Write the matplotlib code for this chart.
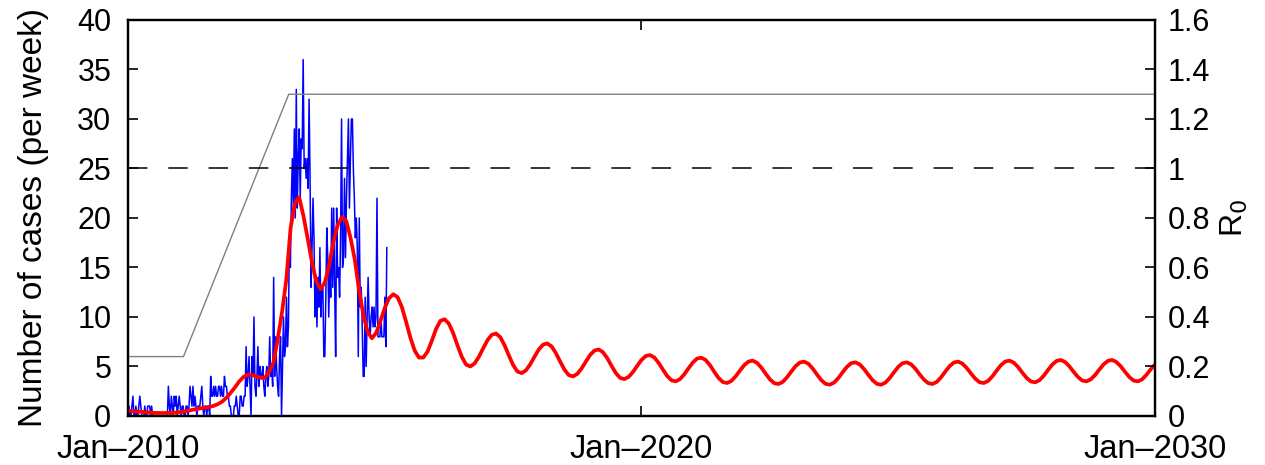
import numpy as np
import matplotlib
matplotlib.use("Agg")
import matplotlib.pyplot as plt

plt.rcParams.update({
    "font.family": ["Liberation Sans", "DejaVu Sans"],
    "font.size": 22,
    "lines.scale_dashes": False,
    "axes.linewidth": 1.6,
})

# weekly reported cases, first week of Jan 2010 onwards
weekly_cases = [
    1, 1, 0, 0, 1, 2, 0, 0, 1, 0,
    0, 1, 2, 1, 0, 0, 0, 1, 0, 0,
    1, 1, 1, 0, 1, 0, 0, 0, 0, 0,
    0, 0, 0, 0, 0, 0, 0, 0, 0, 0,
    0, 3, 1, 0, 2, 1, 0, 2, 1, 2,
    0, 1, 2, 1, 0, 1, 1, 0, 0, 1,
    1, 0, 1, 3, 2, 1, 3, 1, 2, 1,
    0, 1, 1, 1, 2, 3, 1, 0, 1, 1,
    0, 1, 1, 0, 4, 2, 2, 3, 2, 3,
    2, 2, 3, 3, 2, 3, 2, 2, 4, 3,
    3, 2, 2, 1, 1, 0, 0, 0, 1, 1,
    2, 1, 0, 0, 2, 2, 1, 1, 2, 2,
    7, 3, 4, 6, 3, 0, 6, 4, 10, 3,
    2, 4, 7, 3, 5, 4, 4, 5, 3, 2,
    4, 5, 3, 4, 8, 4, 5, 3, 14, 4,
    8, 5, 3, 2, 6, 8, 0, 5, 10, 6,
    7, 12, 7, 9, 18, 15, 22, 26, 21, 29,
    20, 33, 21, 26, 29, 22, 28, 27, 36, 25,
    26, 24, 26, 23, 32, 24, 13, 17, 22, 18,
    10, 14, 9, 14, 11, 17, 10, 13, 13, 6,
    6, 12, 19, 16, 10, 15, 12, 21, 13, 21,
    13, 6, 21, 14, 15, 12, 18, 30, 15, 16,
    24, 16, 22, 26, 30, 21, 26, 30, 30, 25,
    22, 18, 20, 17, 6, 20, 11, 13, 9, 4,
    4, 12, 5, 10, 14, 10, 8, 10, 11, 9,
    11, 9, 10, 22, 8, 8, 8, 10, 8, 8,
    8, 12, 7, 17,
]

# model fit, monthly values Jan 2010 .. Jan 2030
model_cases = [
    0.50, 0.48, 0.46, 0.42, 0.38, 0.34, 0.31, 0.30, 0.30, 0.30, 0.31, 0.33,
    0.38, 0.44, 0.52, 0.62, 0.70, 0.78, 0.85, 0.92, 1.02, 1.20, 1.45, 1.85,
    2.35, 2.90, 3.50, 3.95, 4.18, 4.15, 4.00, 3.85, 3.85, 4.50, 5.40, 7.80,
    10.5, 13.8, 19.0, 21.5, 22.1, 20.2, 17.9, 15.5, 13.6, 12.8, 13.5, 15.2,
    17.6, 19.3, 20.1, 19.7, 18.0, 15.8, 12.7, 10.2, 8.50, 7.85, 8.40, 9.60,
    10.9, 11.9, 12.3, 12.0, 11.0, 9.50, 7.90, 6.60, 5.90, 5.90, 6.50, 7.60,
    8.80, 9.61, 9.77, 9.32, 8.36, 7.13, 5.98, 5.20, 5.00, 5.31, 5.98, 6.84,
    7.65, 8.20, 8.33, 7.96, 7.15, 6.12, 5.15, 4.49, 4.33, 4.61, 5.22, 5.99,
    6.72, 7.21, 7.33, 7.02, 6.35, 5.49, 4.68, 4.13, 4.00, 4.25, 4.80, 5.50,
    6.17, 6.61, 6.72, 6.44, 5.84, 5.07, 4.34, 3.85, 3.73, 3.95, 4.44, 5.07,
    5.66, 6.06, 6.15, 5.91, 5.37, 4.69, 4.04, 3.61, 3.50, 3.72, 4.21, 4.82,
    5.40, 5.80, 5.89, 5.65, 5.14, 4.47, 3.85, 3.43, 3.33, 3.54, 4.00, 4.58,
    5.13, 5.50, 5.59, 5.37, 4.89, 4.29, 3.71, 3.32, 3.23, 3.44, 3.90, 4.48,
    5.03, 5.40, 5.49, 5.28, 4.80, 4.20, 3.63, 3.25, 3.16, 3.37, 3.83, 4.41,
    4.96, 5.33, 5.42, 5.21, 4.75, 4.17, 3.62, 3.25, 3.16, 3.37, 3.83, 4.41,
    4.96, 5.33, 5.42, 5.22, 4.78, 4.21, 3.68, 3.32, 3.23, 3.44, 3.90, 4.48,
    5.03, 5.40, 5.50, 5.29, 4.85, 4.30, 3.77, 3.41, 3.33, 3.54, 4.00, 4.58,
    5.13, 5.50, 5.59, 5.39, 4.95, 4.38, 3.85, 3.49, 3.40, 3.61, 4.06, 4.64,
    5.19, 5.56, 5.66, 5.45, 5.02, 4.46, 3.94, 3.58, 3.50, 3.70, 4.13, 4.69,
    5.21, 5.57, 5.66, 5.45, 5.02, 4.46, 3.94, 3.58, 3.50, 3.70, 4.15, 4.71,
    5.20,
]

# R0 scenario (piecewise linear)
r0_years = [2010.0, 2011.08, 2013.13, 2030.0]
r0_values = [0.24, 0.24, 1.30, 1.30]
r0_threshold = 1.0

x_ticks = [2010, 2020, 2030]
x_labels = ["Jan\u20132010", "Jan\u20132020", "Jan\u20132030"]

week_t = 2010 + np.arange(len(weekly_cases)) * 7 / 365.25
month_t = 2010 + np.arange(len(model_cases)) / 12

fig = plt.figure(figsize=(12.65, 4.65), dpi=100)
ax = fig.add_axes([0.1012, 0.1054, 0.8118, 0.8516])
ax2 = ax.twinx()

ax.plot(week_t, weekly_cases, color="#0000ff", lw=1.1, zorder=2)
ax.plot(month_t, model_cases, color="#ff0000", lw=2.7, zorder=3)

ax2.plot(r0_years, r0_values, color="#808080", lw=1.0)
ax2.axhline(r0_threshold, color="black", lw=1.1, ls=(0, (14, 15)))

ax.set_xlim(2010, 2030)
ax.set_ylim(0, 40)
ax2.set_ylim(0, 1.6)
ax.set_yticks(np.arange(0, 41, 5))
ax2.set_yticks(np.arange(0, 1.61, 0.2))
ax2.set_yticklabels(["0", "0.2", "0.4", "0.6", "0.8", "1", "1.2", "1.4", "1.6"])
ax.set_xticks(x_ticks)
ax.set_xticklabels(x_labels, fontsize=23.5)

ax.tick_params(axis="y", direction="in", length=7, width=1.2, pad=12)
ax.tick_params(axis="x", direction="in", length=7, width=1.2, pad=13, top=True)
ax2.tick_params(axis="y", direction="in", length=7, width=1.2, pad=9)

ax.set_ylabel("Number of cases (per week)", fontsize=24, labelpad=20)
ax2.set_ylabel("R$_0$", fontsize=23, labelpad=6)

fig.savefig("out.png", dpi=100)
